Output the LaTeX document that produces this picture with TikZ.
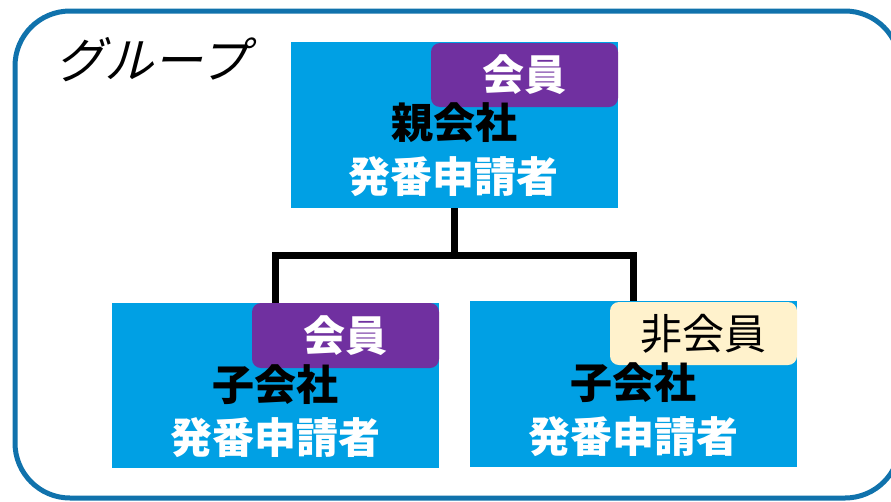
\documentclass[tikz,border=0pt]{standalone}
\usepackage{fontspec}
\newfontfamily\jp{Noto Sans CJK JP}
\newfontfamily\jpslant[FakeSlant=0.25]{Noto Sans CJK JP}
\definecolor{frameblue}{RGB}{16,114,172}
\definecolor{boxblue}{RGB}{0,160,228}
\definecolor{tagpurple}{RGB}{112,48,160}
\definecolor{tagcream}{RGB}{255,242,204}
\tikzset{
  border/.style={draw=frameblue, line width=5pt, rounded corners=55pt},
  cobox/.style={fill=boxblue, draw=none, minimum width=327pt, minimum height=166pt, inner sep=0pt},
  tagm/.style={fill=tagpurple, draw=none, rounded corners=9pt, minimum width=187pt, minimum height=64pt,
    inner sep=0pt, text=white, font=\jp\bfseries\fontsize{42}{48}\selectfont},
  tagn/.style={fill=tagcream, draw=none, rounded corners=9pt, minimum width=187pt, minimum height=63pt,
    inner sep=0pt, text=black, font=\jp\fontsize{42}{48}\selectfont},
  coname/.style={inner sep=0pt, text=black, font=\jp\bfseries\fontsize{42}{48}\selectfont},
  roletext/.style={inner sep=0pt, text=white, font=\jp\bfseries\fontsize{42}{48}\selectfont},
  conn/.style={draw=black, line width=7pt},
}
\begin{document}
\begin{tikzpicture}[x=1pt,y=-1pt]
\useasboundingbox (0,0) rectangle (891,501);
\fill[white] (0,0) rectangle (891,501);
\begin{scope}
  \clip (0,0) rectangle (891,501);
  \draw[border] (15,11) rectangle (900,498);
\end{scope}
\node[inner sep=0pt, font=\jpslant\fontsize{49}{54}\selectfont] (grp) at (152,60) {グループ};

% boxes
\node[cobox] (parent) at (454.5,125) {};
\node[cobox, minimum height=165pt] (childL) at (275.5,385.5) {};
\node[cobox] (childR) at (633.5,384) {};

% connectors
\coordinate (j) at (454.5,255);
\draw[conn] (parent.south) -- (parent.south |- j) -| (childL.north);
\draw[conn] (parent.south |- j) -| (childR.north);

% tags
\node[tagm] (tagP) at (524.5,75) {会員};
\node[tagm, minimum height=65pt] (tagL) at (345.5,335.5) {会員};
\node[tagn] (tagR) at (703.5,333.5) {非会員};

% texts
\node[coname] (nP) at (454,123) {親会社};
\node[roletext] (rP) at (453,177) {発番申請者};
\node[coname] (nL) at (275,385) {子会社};
\node[roletext] (rL) at (275,438) {発番申請者};
\node[coname] (nR) at (633,383) {子会社};
\node[roletext] (rR) at (633,437) {発番申請者};
\end{tikzpicture}
\end{document}
